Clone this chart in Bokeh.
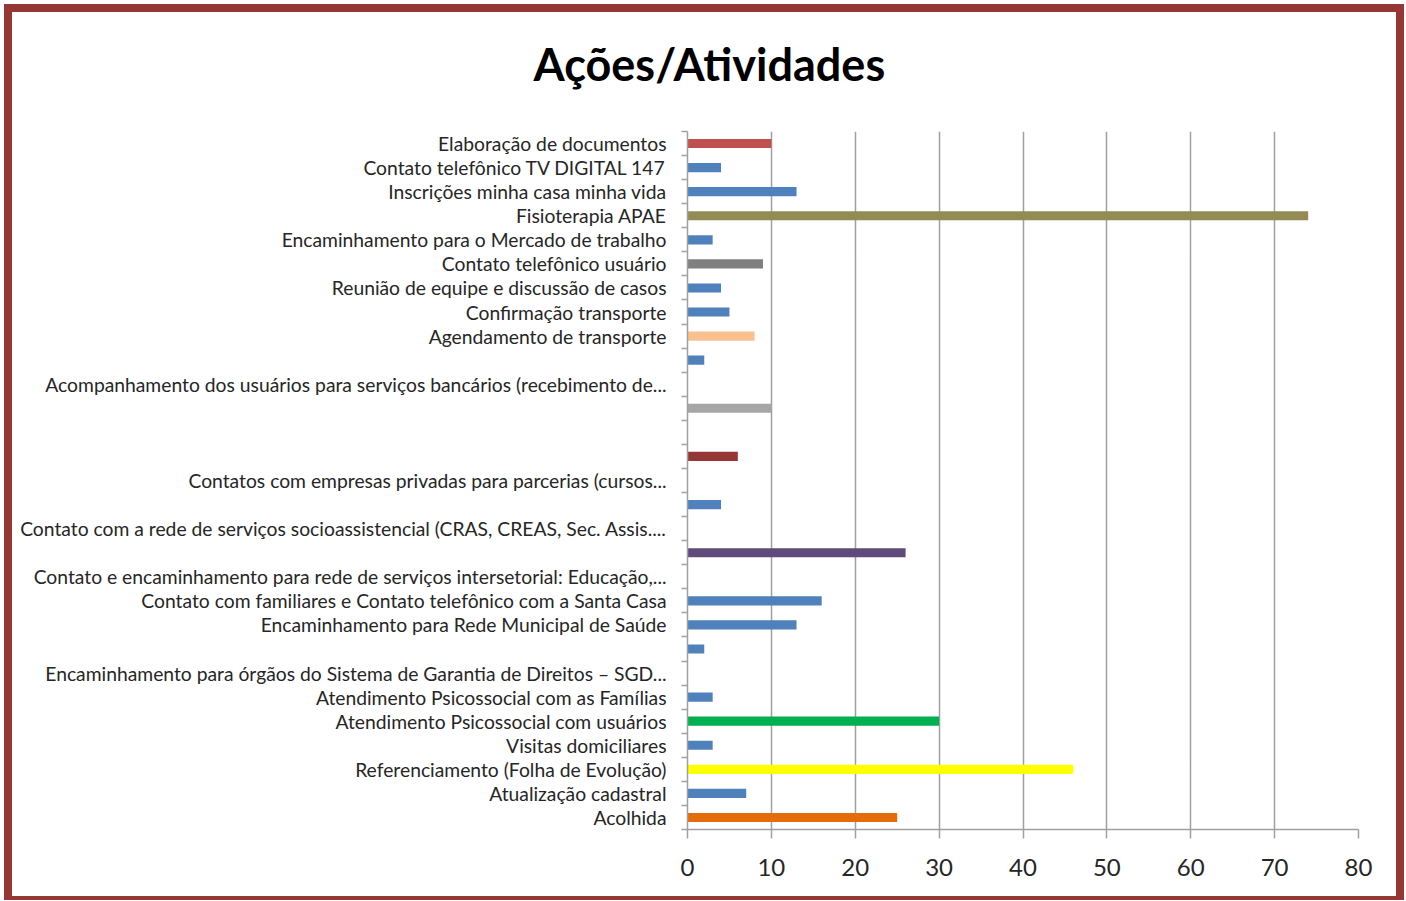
from bokeh.plotting import figure
from bokeh.models import FixedTicker, Range1d, Title
from bokeh.embed import file_html
from bokeh.resources import INLINE

labels = [
    "Elaboração de documentos",
    "Contato telefônico TV DIGITAL 147",
    "Inscrições minha casa minha vida",
    "Fisioterapia APAE",
    "Encaminhamento para o Mercado de trabalho",
    "Contato telefônico usuário",
    "Reunião de equipe e discussão de casos",
    "Confirmação transporte",
    "Agendamento de transporte",
    "",
    "Acompanhamento dos usuários para serviços bancários (recebimento de...",
    "",
    "",
    "",
    "Contatos com empresas privadas para parcerias (cursos...",
    "",
    "Contato com a rede de serviços socioassistencial (CRAS, CREAS, Sec. Assis....",
    "",
    "Contato e encaminhamento para rede de serviços intersetorial: Educação,...",
    "Contato com familiares e Contato telefônico com a Santa Casa",
    "Encaminhamento para Rede Municipal de Saúde",
    "",
    "Encaminhamento para órgãos do Sistema de Garantia de Direitos – SGD...",
    "Atendimento Psicossocial com as Famílias",
    "Atendimento Psicossocial com usuários",
    "Visitas domiciliares",
    "Referenciamento (Folha de Evolução)",
    "Atualização cadastral",
    "Acolhida",
]
values = [10, 4, 13, 74, 3, 9, 4, 5, 8, 2, 0, 10, 0, 6, 0, 4, 0, 26, 0, 16, 13, 2, 0, 3, 30, 3, 46, 7, 25]
BLUE = "#4F81BD"
colors = [
    "#C0504D", BLUE, BLUE, "#948A54", BLUE, "#7F7F7F", BLUE, BLUE, "#FAC090", BLUE,
    BLUE, "#A6A6A6", BLUE, "#953735", BLUE, BLUE, BLUE, "#604A7B", BLUE, BLUE,
    BLUE, BLUE, BLUE, BLUE, "#00B050", BLUE, "#FFFF00", BLUE, "#E46C0A",
]
x_ticks = [0, 10, 20, 30, 40, 50, 60, 70, 80]

n = len(labels)
centers = [n - i - 0.5 for i in range(n)]
bounds = list(range(n + 1))

FONT = "Lato"
GRID = "#A0A0A0"

p = figure(
    width=1384, height=884,
    x_range=Range1d(0, 80), y_range=Range1d(0, n),
    output_backend="svg", toolbar_location=None,
    min_border_left=675, min_border_right=54, min_border_top=119, min_border_bottom=79,
    title="Ações/Atividades",
)
p.styles = {
    "border-style": "solid",
    "border-color": "#953735",
    "border-width": "8px 8px 4px 8px",
    "box-sizing": "content-box",
    "margin-left": "4px",
    "margin-top": "4px",
}
p.outline_line_color = None
p.background_fill_color = "white"
p.border_fill_color = "white"

p.title.text_font = FONT
p.title.text_font_size = "45px"
p.title.text_font_style = "bold"
p.title.text_color = "#000000"
p.title.align = "left"
p.title.offset = -154
p.title.standoff = 10

# blank spacer between title and plot area
p.add_layout(Title(text=" ", text_font=FONT, text_font_size="28px", standoff=0), "above")

p.hbar(y=centers, right=values, left=0, height=0.38, fill_color=colors, line_color=None)

# x axis
xa = p.xaxis[0]
xa.ticker = FixedTicker(ticks=x_ticks, minor_ticks=[])
xa.axis_line_color = GRID
xa.axis_line_width = 1.5
xa.major_tick_line_color = GRID
xa.major_tick_line_width = 1.5
xa.major_tick_out = 9
xa.major_tick_in = 0
xa.minor_tick_line_color = None
xa.major_label_text_font = FONT
xa.major_label_text_font_size = "24px"
xa.major_label_text_color = "#262626"
xa.major_label_standoff = 20

# y axis
ya = p.yaxis[0]
ya.ticker = FixedTicker(ticks=centers, minor_ticks=bounds)
ya.major_label_overrides = {c: lab for c, lab in zip(centers, labels)}
ya.axis_line_color = GRID
ya.axis_line_width = 1.5
ya.major_tick_line_color = None
ya.major_tick_out = 0
ya.major_tick_in = 0
ya.minor_tick_line_color = GRID
ya.minor_tick_line_width = 1.5
ya.minor_tick_out = 6
ya.minor_tick_in = 0
ya.major_label_text_font = FONT
ya.major_label_text_font_size = "19.3px"
ya.major_label_text_color = "#262626"
ya.major_label_standoff = 15

p.xgrid.ticker = FixedTicker(ticks=x_ticks)
p.xgrid.grid_line_color = GRID
p.xgrid.grid_line_width = 1.5
p.ygrid.grid_line_color = None

open("out.html", "w").write(file_html(p, INLINE))
